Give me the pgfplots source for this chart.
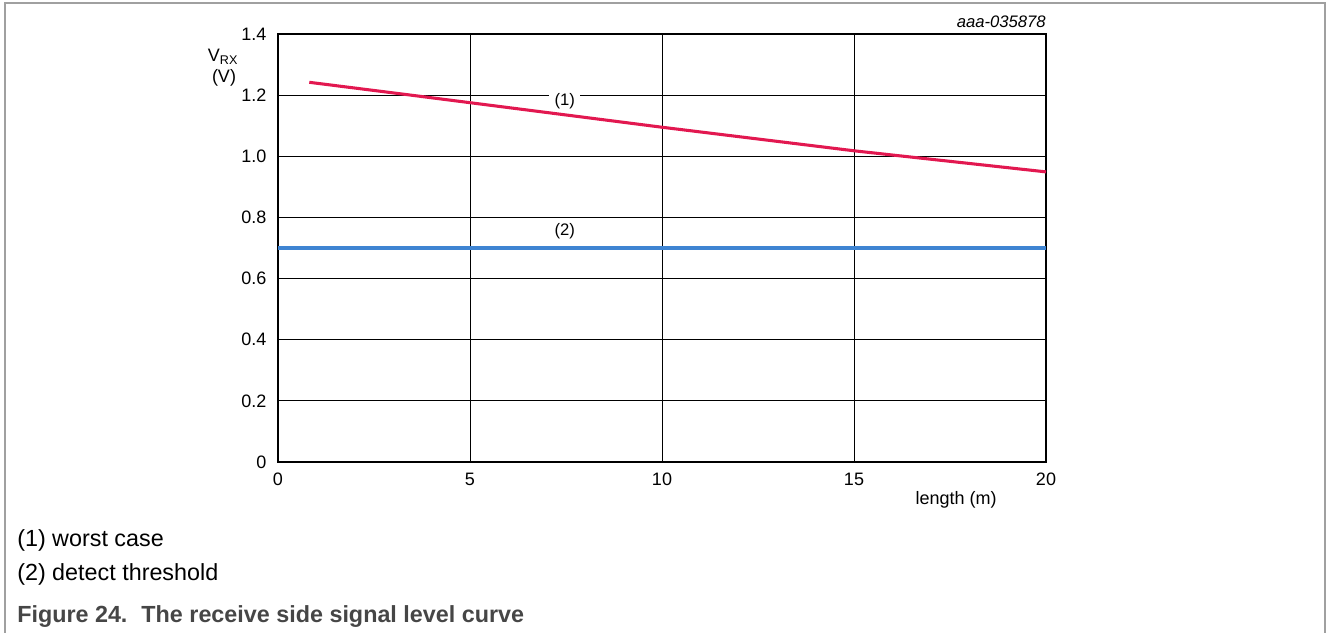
\documentclass[border=0pt]{standalone}
\usepackage{pgfplots}
\pgfplotsset{compat=1.18}
\usepackage{fontspec}
\setmainfont{Liberation Sans}
\definecolor{redline}{RGB}{226,24,80}
\definecolor{blueline}{RGB}{62,132,210}
\definecolor{framegray}{RGB}{160,160,160}
\definecolor{capgray}{RGB}{70,70,70}
\begin{document}
\begin{tikzpicture}
\useasboundingbox (0,0) rectangle (996pt,474pt);
\draw[framegray, line width=1pt] (3.75pt,-1pt) -- (3.75pt,471.75pt) -- (993.75pt,471.75pt) -- (993.75pt,-1pt);
\begin{axis}[
  at={(208.5pt,127.5pt)}, anchor=south west,
  scale only axis, width=576pt, height=321pt,
  xmin=0, xmax=20, ymin=0, ymax=1.4,
  xtick={0,5,10,15,20},
  ytick={0,0.2,0.4,0.6,0.8,1.0,1.2,1.4},
  yticklabels={0,0.2,0.4,0.6,0.8,1.0,1.2,1.4},
  xticklabels={0,5,10,15,20},
  major tick length=0pt,
  grid=major,
  major grid style={black, line width=0.7pt},
  axis line style={black, line width=1pt},
  tick label style={font=\fontsize{13.5}{15}\selectfont, inner sep=0pt},
  yticklabel style={anchor=east, xshift=-8.5pt},
  xticklabel style={anchor=north, yshift=-8pt},
  /pgf/number format/assume math mode=true,
  clip=false,
]
\addplot[redline, line width=2.3pt] coordinates {
  (0.815,1.242) (3.4,1.201) (10,1.095) (15,1.018) (16.3,1.0) (20,0.949)
};
\addplot[blueline, line width=2.3pt] coordinates {
  (0,0.70) (20,0.70)
};
\node[fill=white, inner xsep=4pt, inner ysep=1pt, font=\fontsize{12.5}{14}\selectfont] at (axis cs:7.47,1.18) {(1)};
\node[fill=white, inner xsep=4pt, inner ysep=1pt, font=\fontsize{12.5}{14}\selectfont] at (axis cs:7.47,0.755) {(2)};
\end{axis}
\node[anchor=base, font=\fontsize{13.5}{15}\selectfont] at (167.25pt,427.5pt) {V\textsubscript{RX}};
\node[anchor=base, font=\fontsize{13.5}{15}\selectfont] at (168pt,411.75pt) {(V)};
\node[anchor=base east, inner sep=0pt, font=\fontsize{12.5}{14}\selectfont\itshape] at (784.5pt,453.4pt) {aaa-035878};
\node[anchor=base east, inner sep=0pt, font=\fontsize{13.5}{15}\selectfont] at (747.75pt,95.25pt) {length (m)};
\node[anchor=base west, inner sep=0pt, font=\fontsize{17.5}{19}\selectfont] at (12.75pt,64.1pt) {(1) worst case};
\node[anchor=base west, inner sep=0pt, font=\fontsize{17.5}{19}\selectfont] at (12.75pt,38.25pt) {(2) detect threshold};
\node[anchor=base west, inner sep=0pt, text=capgray, font=\fontsize{17.5}{19}\selectfont\bfseries] at (12.75pt,7.5pt) {Figure 24.\hspace{0.6em}The receive side signal level curve};
\end{tikzpicture}
\end{document}
